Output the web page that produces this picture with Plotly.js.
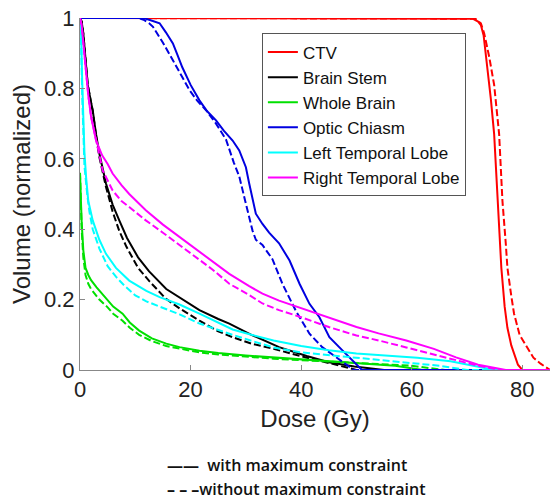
<!DOCTYPE html>
<html>
<head>
<meta charset="utf-8">
<script src="https://cdn.plot.ly/plotly-3.0.1.min.js"></script>
<style>html,body{margin:0;padding:0;background:#fff}#chart{width:550px;height:500px}</style>
</head>
<body>
<div id="chart"></div>
<script>
// ---- data (dose in Gy, volume normalized) ----
const seriesNames = ["CTV", "Brain Stem", "Whole Brain", "Optic Chiasm", "Left Temporal Lobe", "Right Temporal Lobe"];
const seriesColors = ["#ff0000", "#000000", "#00e000", "#0000e0", "#00ffff", "#ff00ff"];
const keyTexts = ["<b>——</b>&nbsp; with maximum constraint", "<b>–&nbsp;–&nbsp;–</b>without maximum constraint"];

const ctvDoseWith = [0, 70, 71, 72, 72.5, 73, 73.7, 74.3, 74.9, 75.5, 76.2, 76.8, 77.3, 78, 78.5, 79.2, 80, 85];
const ctvVolWith  = [1, 1, 0.998, 0.99, 0.98, 0.95, 0.86, 0.77, 0.67, 0.48, 0.29, 0.18, 0.12, 0.07, 0.045, 0.015, 0, 0];
const ctvDoseWithout = [0, 70.5, 71.5, 72.5, 73.1, 74, 74.9, 75.8, 76.4, 77, 77.3, 78, 78.5, 79.5, 80.8, 82, 83.3, 84.5, 85];
const ctvVolWithout  = [1, 1, 0.998, 0.985, 0.956, 0.89, 0.81, 0.67, 0.48, 0.36, 0.29, 0.21, 0.16, 0.1, 0.064, 0.035, 0.018, 0.005, 0];

const bsDoseWith = [0, 0.3, 0.6, 1, 1.4, 2, 2.3, 2.9, 3.5, 4.7, 5.9, 7.1, 8.5, 10.5, 12.5, 15.6, 18.5, 21.6, 25, 27, 31, 36, 41, 45, 49.6, 55, 85];
const bsVolWith  = [1, 0.99, 0.956, 0.88, 0.81, 0.76, 0.738, 0.67, 0.615, 0.53, 0.47, 0.425, 0.375, 0.32, 0.28, 0.23, 0.2, 0.17, 0.145, 0.132, 0.1, 0.065, 0.04, 0.022, 0.01, 0, 0];
const bsDoseWithout = [0, 0.3, 0.6, 1, 1.4, 2, 2.3, 2.9, 3.5, 4.7, 5.9, 7.1, 8.4, 10.5, 12.5, 15.5, 18, 21.6, 25, 27.6, 31, 35, 38, 41, 45, 48, 50, 85];
const bsVolWithout  = [1, 0.99, 0.956, 0.88, 0.81, 0.76, 0.735, 0.665, 0.605, 0.52, 0.45, 0.395, 0.35, 0.29, 0.253, 0.203, 0.175, 0.14, 0.11, 0.093, 0.075, 0.06, 0.047, 0.035, 0.02, 0.008, 0, 0];

const wbDoseWith = [0, 0.1, 0.3, 0.6, 1, 1.5, 2, 3, 3.5, 5, 6, 7.7, 9, 10.7, 13, 15.6, 18, 21.6, 25, 30, 35, 40, 45, 50, 53, 57, 62, 85];
const wbVolWith  = [0.56, 0.5, 0.42, 0.34, 0.29, 0.27, 0.255, 0.235, 0.226, 0.2, 0.18, 0.16, 0.135, 0.112, 0.09, 0.075, 0.065, 0.055, 0.048, 0.041, 0.036, 0.031, 0.026, 0.021, 0.018, 0.012, 0, 0];
const wbDoseWithout = [0, 0.1, 0.3, 0.6, 1, 1.5, 2, 3, 3.5, 5, 6, 7.7, 9, 10.7, 13, 15.6, 18, 21.6, 25, 30, 35, 40, 45, 50, 55, 60, 66, 85];
const wbVolWithout  = [0.56, 0.48, 0.4, 0.32, 0.27, 0.245, 0.23, 0.21, 0.2, 0.178, 0.16, 0.14, 0.12, 0.1, 0.082, 0.068, 0.06, 0.05, 0.044, 0.037, 0.032, 0.028, 0.024, 0.02, 0.016, 0.012, 0, 0];

const ocDoseWith = [0, 11.5, 12.5, 13.5, 14.4, 15.5, 16.8, 17.5, 18.5, 20, 21.6, 23, 24.6, 26, 27.6, 28.8, 30, 30.6, 31.8, 33, 34.2, 36, 37.9, 39.7, 41.5, 43.3, 45.1, 47.5, 49.9, 51, 85];
const ocVolWith  = [1, 1, 0.995, 0.99, 0.985, 0.96, 0.928, 0.9, 0.86, 0.81, 0.766, 0.735, 0.709, 0.68, 0.652, 0.624, 0.576, 0.53, 0.444, 0.415, 0.39, 0.36, 0.311, 0.245, 0.188, 0.15, 0.093, 0.055, 0.018, 0, 0];
const ocDoseWithout = [0, 10.5, 11.5, 12.5, 13.2, 15, 16.8, 18.2, 19.8, 21.2, 22.8, 24.6, 26.4, 27.8, 28.8, 29.8, 31.2, 31.8, 33, 34.8, 36.6, 39, 41.5, 43.8, 46.3, 48.7, 49.5, 85];
const ocVolWithout  = [1, 1, 0.995, 0.985, 0.975, 0.93, 0.88, 0.84, 0.795, 0.765, 0.738, 0.7, 0.655, 0.59, 0.55, 0.485, 0.396, 0.37, 0.355, 0.315, 0.245, 0.169, 0.103, 0.065, 0.036, 0.008, 0, 0];

const ltDoseWith = [0, 0.2, 0.4, 0.6, 0.8, 1.1, 1.5, 2.3, 3.5, 4.7, 6.5, 8.9, 12, 14.4, 18, 21.6, 25, 27.6, 31, 35, 40, 45, 50, 55, 61, 67, 72, 75, 85];
const ltVolWith  = [1, 0.95, 0.82, 0.7, 0.62, 0.548, 0.48, 0.425, 0.37, 0.33, 0.29, 0.254, 0.225, 0.207, 0.186, 0.16, 0.135, 0.115, 0.1, 0.084, 0.068, 0.056, 0.047, 0.042, 0.035, 0.025, 0.01, 0, 0];
const ltDoseWithout = [0, 0.2, 0.4, 0.6, 0.8, 1.3, 1.7, 2.3, 3.5, 5, 6.5, 8, 10, 12, 15.6, 18, 21.6, 25, 27.6, 31, 35, 40, 45, 50, 55, 60, 65, 70, 85];
const ltVolWithout  = [1, 0.94, 0.78, 0.66, 0.58, 0.5, 0.45, 0.4, 0.345, 0.295, 0.265, 0.24, 0.212, 0.195, 0.173, 0.158, 0.132, 0.113, 0.1, 0.083, 0.064, 0.05, 0.042, 0.035, 0.028, 0.02, 0.012, 0, 0];

const rtDoseWith = [0, 0.3, 0.6, 1, 1.5, 2, 2.9, 4, 5, 5.9, 7.5, 8.9, 10.5, 11.9, 15, 18, 21, 23.9, 27, 30.6, 33, 36, 40, 45, 50, 54, 59, 64, 68, 72, 75, 77, 85];
const rtVolWith  = [1, 0.98, 0.93, 0.86, 0.78, 0.72, 0.652, 0.61, 0.585, 0.558, 0.525, 0.5, 0.475, 0.454, 0.413, 0.378, 0.343, 0.311, 0.273, 0.238, 0.217, 0.197, 0.176, 0.15, 0.122, 0.104, 0.084, 0.06, 0.036, 0.015, 0.007, 0, 0];
const rtDoseWithout = [0, 0.3, 0.6, 1, 1.5, 2, 2.9, 3.5, 4.1, 5.9, 7.5, 8.9, 11.9, 15, 18, 21, 24, 27, 30.6, 33, 36, 40, 45, 50, 54, 59, 64, 68, 72, 76, 85];
const rtVolWithout  = [1, 0.98, 0.93, 0.86, 0.78, 0.72, 0.65, 0.61, 0.567, 0.51, 0.48, 0.463, 0.425, 0.39, 0.355, 0.32, 0.285, 0.245, 0.213, 0.189, 0.17, 0.15, 0.122, 0.098, 0.084, 0.064, 0.044, 0.027, 0.012, 0, 0];

const xTicks = [0, 20, 40, 60, 80];
const yTicks = [0, 0.2, 0.4, 0.6, 0.8, 1];
const yTickText = ["0", "0.2", "0.4", "0.6", "0.8", "1"];

// ---- build traces ----
const pairs = [
  [ctvDoseWith, ctvVolWith, ctvDoseWithout, ctvVolWithout],
  [bsDoseWith, bsVolWith, bsDoseWithout, bsVolWithout],
  [wbDoseWith, wbVolWith, wbDoseWithout, wbVolWithout],
  [ocDoseWith, ocVolWith, ocDoseWithout, ocVolWithout],
  [ltDoseWith, ltVolWith, ltDoseWithout, ltVolWithout],
  [rtDoseWith, rtVolWith, rtDoseWithout, rtVolWithout]
];
const DASH = "7px,3px";
const traces = [];
pairs.forEach((p, i) => {
  traces.push({x: p[0], y: p[1], type: "scatter", mode: "lines", name: seriesNames[i],
    line: {color: seriesColors[i], width: 2}, hoverinfo: "skip"});
  traces.push({x: p[2], y: p[3], type: "scatter", mode: "lines", name: seriesNames[i] + " (without)",
    showlegend: false, line: {color: seriesColors[i], width: 2, dash: DASH}, hoverinfo: "skip"});
});

const keyFont = {size: 16, color: "#111", family: "Open Sans, sans-serif", weight: 600};

const layout = {
  width: 550, height: 500,
  margin: {l: 80, r: 0, t: 18, b: 130},
  paper_bgcolor: "#fff", plot_bgcolor: "#fff",
  font: {family: "Liberation Sans, Arial, sans-serif", color: "#222"},
  xaxis: {
    range: [0, 85], tickvals: xTicks, ticks: "inside", ticklen: 5, tickcolor: "#888",
    showline: true, linecolor: "#888", linewidth: 1, showgrid: false, zeroline: false,
    tickfont: {size: 22, color: "#222"},
    title: {text: "Dose (Gy)", font: {size: 24, color: "#222"}, standoff: 8}
  },
  yaxis: {
    range: [0, 1], tickvals: yTicks, ticktext: yTickText, ticks: "inside", ticklen: 5, tickcolor: "#888",
    showline: true, linecolor: "#888", linewidth: 1, showgrid: false, zeroline: false,
    tickfont: {size: 22, color: "#222"},
    title: {text: "Volume (normalized)", font: {size: 24, color: "#222"}, standoff: 6}
  },
  legend: {
    x: 0.387, y: 0.956, xanchor: "left", yanchor: "top",
    bgcolor: "#fff", bordercolor: "#555", borderwidth: 1,
    font: {size: 17, color: "#111"}, tracegroupgap: 0
  },
  annotations: [
    {xref: "paper", yref: "paper", x: 0.181, y: -0.271, xanchor: "left", yanchor: "middle",
     text: keyTexts[0], showarrow: false, font: keyFont},
    {xref: "paper", yref: "paper", x: 0.181, y: -0.337, xanchor: "left", yanchor: "middle",
     text: keyTexts[1], showarrow: false, font: keyFont}
  ],
  showlegend: true
};

Plotly.newPlot("chart", traces, layout, {displayModeBar: false, staticPlot: true});
</script>
</body>
</html>
